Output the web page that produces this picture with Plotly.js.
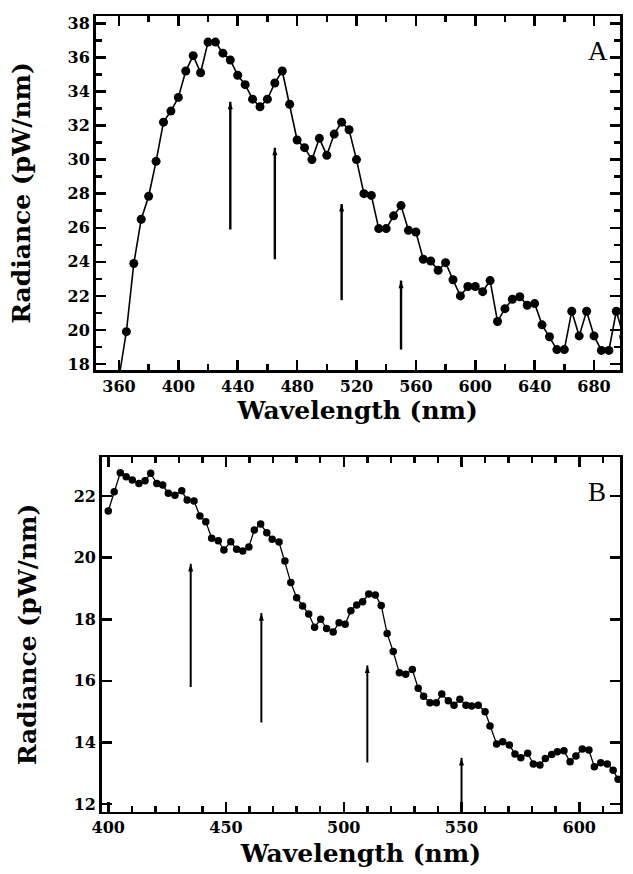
<!DOCTYPE html>
<html><head><meta charset="utf-8">
<script src="https://cdn.plot.ly/plotly-3.0.1.min.js"></script>
<style>body{margin:0;padding:0;background:#fff}#chart{width:633px;height:874px}</style>
</head><body><div id="chart"></div>
<script>
// Panel A data
const wavelengthA = [360,365,370,375,380,385,390,395,400,405,410,415,420,425,430,435,440,445,450,455,460,465,470,475,480,485,490,495,500,505,510,515,520,525,530,535,540,545,550,555,560,565,570,575,580,585,590,595,600,605,610,615,620,625,630,635,640,645,650,655,660,665,670,675,680,685,690,695,700];
const radianceA = [17.2,19.9,23.9,26.5,27.85,29.9,32.2,32.85,33.65,35.2,36.1,35.1,36.9,36.9,36.25,35.85,34.95,34.4,33.55,33.1,33.55,34.5,35.2,33.25,31.15,30.7,30.0,31.25,30.25,31.5,32.2,31.75,30.0,28.0,27.9,25.95,25.95,26.7,27.3,25.85,25.75,24.15,24.05,23.5,23.95,22.95,22.0,22.55,22.55,22.25,22.9,20.5,21.25,21.8,21.95,21.45,21.55,20.3,19.6,18.85,18.85,21.1,19.65,21.1,19.65,18.8,18.8,21.1,19.6];
const arrowWavelengthA = [435,465,510,550];
const arrowTopA = [33.4,30.7,27.4,22.9];
const arrowBottomA = [25.9,24.15,21.75,18.85];
const xTicksA = [360,400,440,480,520,560,600,640,680];
const xMinorA = [340,380,420,460,500,540,580,620,660,700];
const yTicksA = [18,20,22,24,26,28,30,32,34,36,38];
const yMinorA = [19,21,23,25,27,29,31,33,35,37];

// Panel B data
const wavelengthB = [400.0,402.5,405.1,407.6,410.2,413.0,415.6,418.0,420.6,423.1,425.5,428.3,431.2,433.5,436.4,438.9,441.4,443.9,446.7,449.1,452.0,454.5,457.1,459.7,462.0,464.7,467.3,469.6,472.5,475.0,477.5,480.0,482.5,485.1,487.6,490.2,492.7,495.5,498.0,500.6,503.0,505.5,508.0,510.6,513.4,515.9,518.4,521.0,523.6,526.3,529.1,531.6,533.9,536.6,539.3,541.6,544.4,546.8,549.3,551.9,554.3,557.1,560.0,562.1,564.9,567.5,570.3,572.7,575.2,578.1,580.5,583.3,585.6,588.3,590.7,593.5,596.1,598.6,601.3,604.1,606.4,609.1,611.9,614.4,616.5,619.1];
const radianceB = [21.52,22.14,22.76,22.63,22.52,22.41,22.50,22.74,22.41,22.36,22.09,22.03,22.17,21.87,21.84,21.35,21.17,20.63,20.55,20.25,20.52,20.27,20.22,20.35,20.90,21.09,20.81,20.60,20.51,19.89,19.19,18.70,18.43,18.17,17.74,18.00,17.70,17.59,17.89,17.84,18.28,18.46,18.57,18.82,18.79,18.45,17.54,16.95,16.26,16.21,16.37,15.76,15.50,15.29,15.29,15.57,15.35,15.21,15.40,15.21,15.18,15.21,15.00,14.53,13.95,14.02,13.92,13.62,13.50,13.65,13.30,13.27,13.48,13.61,13.70,13.73,13.37,13.56,13.79,13.75,13.21,13.34,13.30,13.10,12.80,13.00];
const arrowWavelengthB = [435,465,510,550];
const arrowTopB = [19.8,18.2,16.5,13.5];
const arrowBottomB = [15.8,14.65,13.35,11.75];
const xTicksB = [400,450,500,550,600];
const xMinorB = [410,420,430,440,460,470,480,490,510,520,530,540,560,570,580,590,610,620];
const yTicksB = [12,14,16,18,20,22];

function stems(xs, tops, bottoms) {
  const x = [], y = [];
  xs.forEach((v, i) => { x.push(v, v, null); y.push(bottoms[i], tops[i], null); });
  return {x, y};
}
const sA = stems(arrowWavelengthA, arrowTopA, arrowBottomA);
const sB = stems(arrowWavelengthB, arrowTopB, arrowBottomB);

const traces = [
  {x: wavelengthA, y: radianceA, xaxis: 'x', yaxis: 'y', mode: 'lines+markers', line: {color: '#000', width: 1.6}, marker: {color: '#000', size: 9}, hoverinfo: 'skip'},
  {x: sA.x, y: sA.y, xaxis: 'x', yaxis: 'y', mode: 'lines', line: {color: '#000', width: 2.4}, hoverinfo: 'skip'},
  {x: arrowWavelengthA, y: arrowTopA, xaxis: 'x', yaxis: 'y', mode: 'markers', marker: {symbol: 'arrow', angle: 0, size: 8, color: '#000'}, hoverinfo: 'skip'},
  {x: wavelengthB, y: radianceB, xaxis: 'x2', yaxis: 'y2', mode: 'lines+markers', line: {color: '#000', width: 1.3}, marker: {color: '#000', size: 7.5}, hoverinfo: 'skip'},
  {x: sB.x, y: sB.y, xaxis: 'x2', yaxis: 'y2', mode: 'lines', line: {color: '#000', width: 2}, hoverinfo: 'skip'},
  {x: arrowWavelengthB, y: arrowTopB, xaxis: 'x2', yaxis: 'y2', mode: 'markers', marker: {symbol: 'arrow', angle: 0, size: 8, color: '#000'}, hoverinfo: 'skip'}
];

const tickFont = {family: 'DejaVu Serif', size: 16, color: '#000', weight: 'bold'};
const titleFont = {family: 'DejaVu Serif', size: 25, color: '#000', weight: 'bold'};
function ax(extra) {
  return Object.assign({
    showline: true, linecolor: '#000', linewidth: 2.5, mirror: 'ticks',
    ticks: 'inside', ticklen: 10, tickwidth: 2.5, tickcolor: '#000',
    showgrid: false, zeroline: false, automargin: false, tickfont: tickFont,
    tickmode: 'array'
  }, extra);
}
const minorStyle = {ticks: 'inside', ticklen: 6, tickwidth: 2.5, tickcolor: '#000', showgrid: false};

const layout = {
  width: 633, height: 874,
  margin: {l: 0, r: 0, t: 0, b: 0},
  paper_bgcolor: '#fff', plot_bgcolor: '#fff',
  showlegend: false,
  xaxis: ax({domain: [95.5/633, 620/633], anchor: 'y', range: [344.2, 697.5],
    tickvals: xTicksA, ticktext: xTicksA.map(String),
    minor: Object.assign({tickmode: 'array', tickvals: xMinorA}, minorStyle),
    title: {text: 'Wavelength (nm)', font: titleFont, standoff: 0}}),
  yaxis: ax({domain: [1 - 370/874, 1 - 16/874], anchor: 'x', range: [17.65, 38.43],
    tickvals: yTicksA, ticktext: yTicksA.map(String),
    minor: Object.assign({tickmode: 'array', tickvals: yMinorA}, minorStyle),
    title: {text: 'Radiance (pW/nm)', font: titleFont, standoff: 30}}),
  xaxis2: ax({domain: [101.7/633, 620/633], anchor: 'y2', range: [397.2, 617.3],
    tickvals: xTicksB, ticktext: xTicksB.map(String),
    minor: Object.assign({tickmode: 'array', tickvals: xMinorB}, minorStyle),
    title: {text: 'Wavelength (nm)', font: titleFont, standoff: 8}}),
  yaxis2: ax({domain: [1 - 811.7/874, 1 - 457.3/874], anchor: 'x2', range: [11.75, 23.26],
    tickvals: yTicksB, ticktext: yTicksB.map(String),
    title: {text: 'Radiance (pW/nm)', font: titleFont, standoff: 30}}),
  annotations: [
    {xref: 'x domain', yref: 'y domain', x: 0.98, y: 0.95, text: 'A', showarrow: false, font: {family: 'Liberation Serif', size: 27, color: '#000'}},
    {xref: 'x2 domain', yref: 'y2 domain', x: 0.977, y: 0.95, text: 'B', showarrow: false, font: {family: 'Liberation Serif', size: 27, color: '#000'}}
  ]
};

Plotly.newPlot('chart', traces, layout, {staticPlot: true, displayModeBar: false});
</script>
</body></html>
